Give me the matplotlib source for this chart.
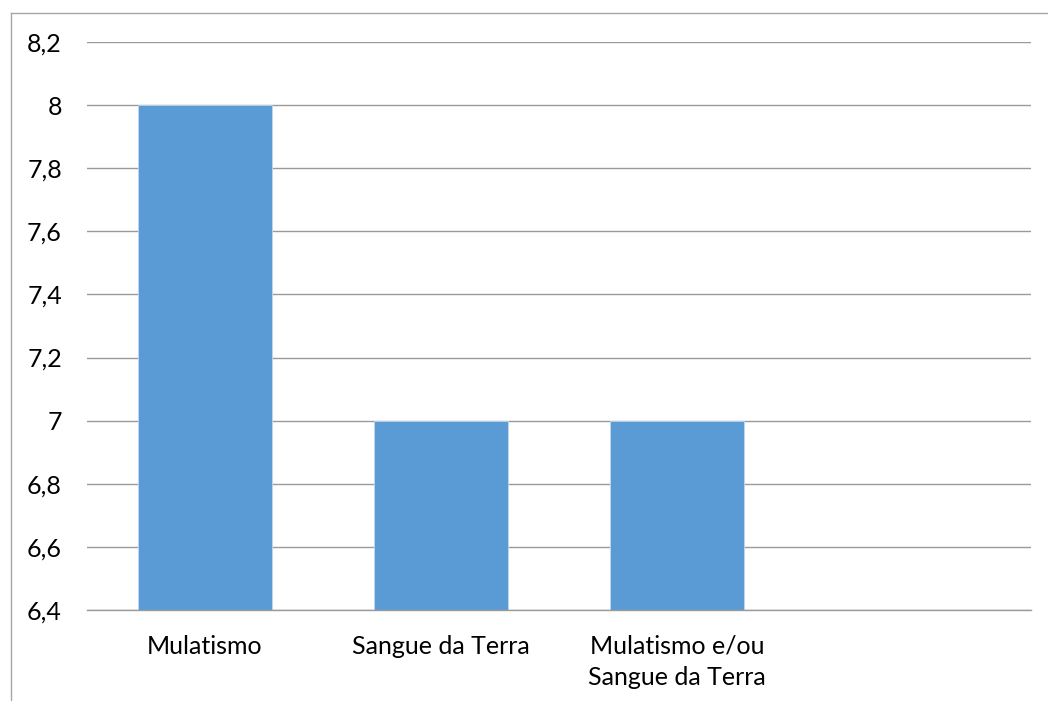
import matplotlib
matplotlib.use("Agg")
import matplotlib.pyplot as plt
from matplotlib.lines import Line2D
from matplotlib.ticker import FuncFormatter

categories = ["Mulatismo", "Sangue da Terra", "Mulatismo e/ou\nSangue da Terra", ""]
values = [8, 7, 7, None]
y_ticks = [6.4, 6.6, 6.8, 7.0, 7.2, 7.4, 7.6, 7.8, 8.0, 8.2]

W, H = 1048, 701
fig = plt.figure(figsize=(W / 100, H / 100), dpi=100)
plt.rcParams["font.family"] = ["Lato", "DejaVu Sans"]

ax = fig.add_axes([87 / W, (H - 610) / H, (1031 - 87) / W, (610 - 42) / H])

base = 6.4
xs = list(range(len(categories)))
for x, v in zip(xs, values):
    if v is None:
        continue
    ax.bar(x, v - base, bottom=base, width=0.57, color="#5B9BD5",
           edgecolor="#BDD7EE", linewidth=0.6, zorder=3)

ax.set_xlim(-0.5, len(categories) - 0.5)
ax.set_ylim(6.4, 8.2)
ax.set_yticks(y_ticks)
ax.yaxis.set_major_formatter(FuncFormatter(lambda v, p: f"{v:g}".replace(".", ",")))
ax.set_xticks(xs)
ax.set_xticklabels(categories, linespacing=1.4)

ax.grid(axis="y", color="#9A9A9A", linewidth=1.0, zorder=0)
for s in ax.spines.values():
    s.set_visible(False)
ax.spines["bottom"].set_visible(True)
ax.spines["bottom"].set_color("#9A9A9A")
ax.spines["bottom"].set_linewidth(1.0)
ax.spines["bottom"].set_zorder(4)
ax.tick_params(axis="both", length=0, labelsize=18, colors="black")
ax.tick_params(axis="y", pad=18)
ax.tick_params(axis="x", pad=18)

# outer frame (top and left edges)
fig.add_artist(Line2D([10.5 / W, 1.0], [(H - 12.5) / H, (H - 12.5) / H],
                      transform=fig.transFigure, color="#A6A6A6", linewidth=1.0))
fig.add_artist(Line2D([11 / W, 11 / W], [0, (H - 12.5) / H],
                      transform=fig.transFigure, color="#A6A6A6", linewidth=1.0))

fig.savefig("out.png", dpi=100, facecolor="white")
